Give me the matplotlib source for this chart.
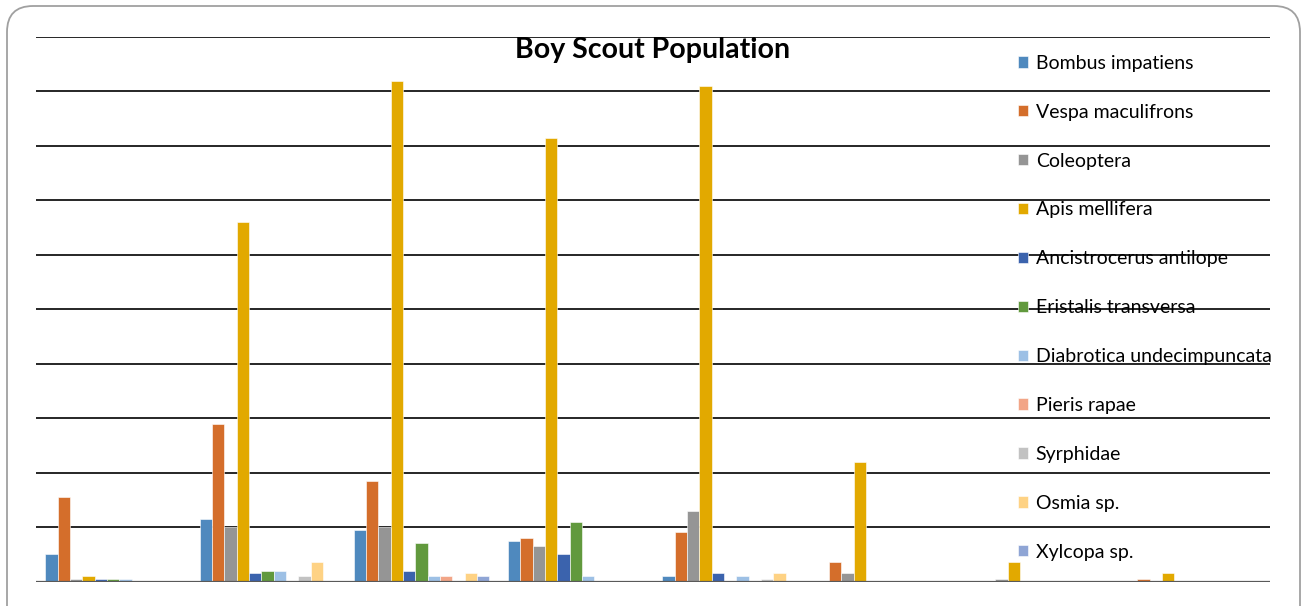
import matplotlib.pyplot as plt
import numpy as np
from matplotlib.patches import FancyBboxPatch
from matplotlib.transforms import IdentityTransform

# clustered bar chart: insect counts per sample, axis labels hidden

sites = ["1", "2", "3", "4", "5", "6", "7", "8"]

species = ["Bombus impatiens", "Vespa maculifrons", "Coleoptera", "Apis mellifera",
           "Ancistrocerus antilope", "Eristalis transversa", "Diabrotica undecimpuncata",
           "Pieris rapae", "Syrphidae", "Osmia sp.", "Xylcopa sp."]

bombus        = [10, 23, 19, 15, 2, 0, 0, 0]
vespa         = [31, 58, 37, 16, 18, 7, 0, 1]
coleoptera    = [1, 20, 20, 13, 26, 3, 1, 0]
apis          = [2, 132, 184, 163, 182, 44, 7, 3]
ancistrocerus = [1, 3, 4, 10, 3, 0, 0, 0]
eristalis     = [1, 4, 14, 22, 0, 0, 0, 0]
diabrotica    = [1, 4, 2, 2, 2, 0, 0, 0]
pieris        = [0, 0, 2, 0, 0, 0, 0, 0]
syrphidae     = [0, 2, 0, 0, 1, 0, 0, 0]
osmia         = [0, 7, 3, 0, 3, 0, 0, 0]
xylcopa       = [0, 0, 2, 0, 0, 0, 0, 0]

series = [bombus, vespa, coleoptera, apis, ancistrocerus, eristalis,
          diabrotica, pieris, syrphidae, osmia, xylcopa]

colors = ["#4F89BE", "#D46E2B", "#959595", "#E2A900", "#3B63AD", "#61993D",
          "#9DC0E5", "#F2A587", "#C2C2C2", "#FED284", "#8FA5D5"]

#-----------------------------------------------------------------------------

fig = plt.figure(figsize=(13.02, 6.06), dpi=100)
plt.rcParams["font.family"] = ["Lato", "DejaVu Sans"]

# rounded outer chart border (pixel coords, bottom edge runs off the image)
border = FancyBboxPatch((7, -40), 1293, 640,
                        boxstyle="round,pad=0,rounding_size=26",
                        transform=IdentityTransform(), facecolor="white",
                        edgecolor="#A0A0A0", linewidth=1.3, zorder=-1)
fig.patches.append(border)

ax = fig.add_axes([36/1302, 24.5/606, 1234/1302, 544.5/606])
ax.set_facecolor("none")

x = np.arange(len(sites))
nser = len(series)
w = 0.88/nser

for k in range(nser):
    ax.bar(x - 0.44 + w*(k + 0.5), series[k], width=w, color=colors[k],
           edgecolor="white", linewidth=0.4, label=species[k], zorder=3)

ax.set_xlim(-0.5, len(sites) - 0.5)
ax.set_ylim(0, 200)

# horizontal gridlines
for yv in range(20, 201, 20):
    ax.axhline(yv, color="#262626", linewidth=1.4, zorder=1)
ax.axhline(0, color="#595959", linewidth=1.6, zorder=4)

for s in ax.spines.values():
    s.set_visible(False)
ax.set_xticks([])
ax.set_yticks([])

fig.text(653/1302, 1 - 50/606, "Boy Scout Population", ha="center", va="center",
         fontsize=20.5, fontweight="bold")

leg = ax.legend(loc="upper left", bbox_to_anchor=(1010/1302, 1 - 47/606),
                bbox_transform=fig.transFigure, frameon=False, fontsize=14,
                handlelength=0.52, handleheight=0.52, handletextpad=0.4,
                labelspacing=1.64, borderaxespad=0)
leg.set_zorder(5)

plt.savefig("out.png", dpi=100)
